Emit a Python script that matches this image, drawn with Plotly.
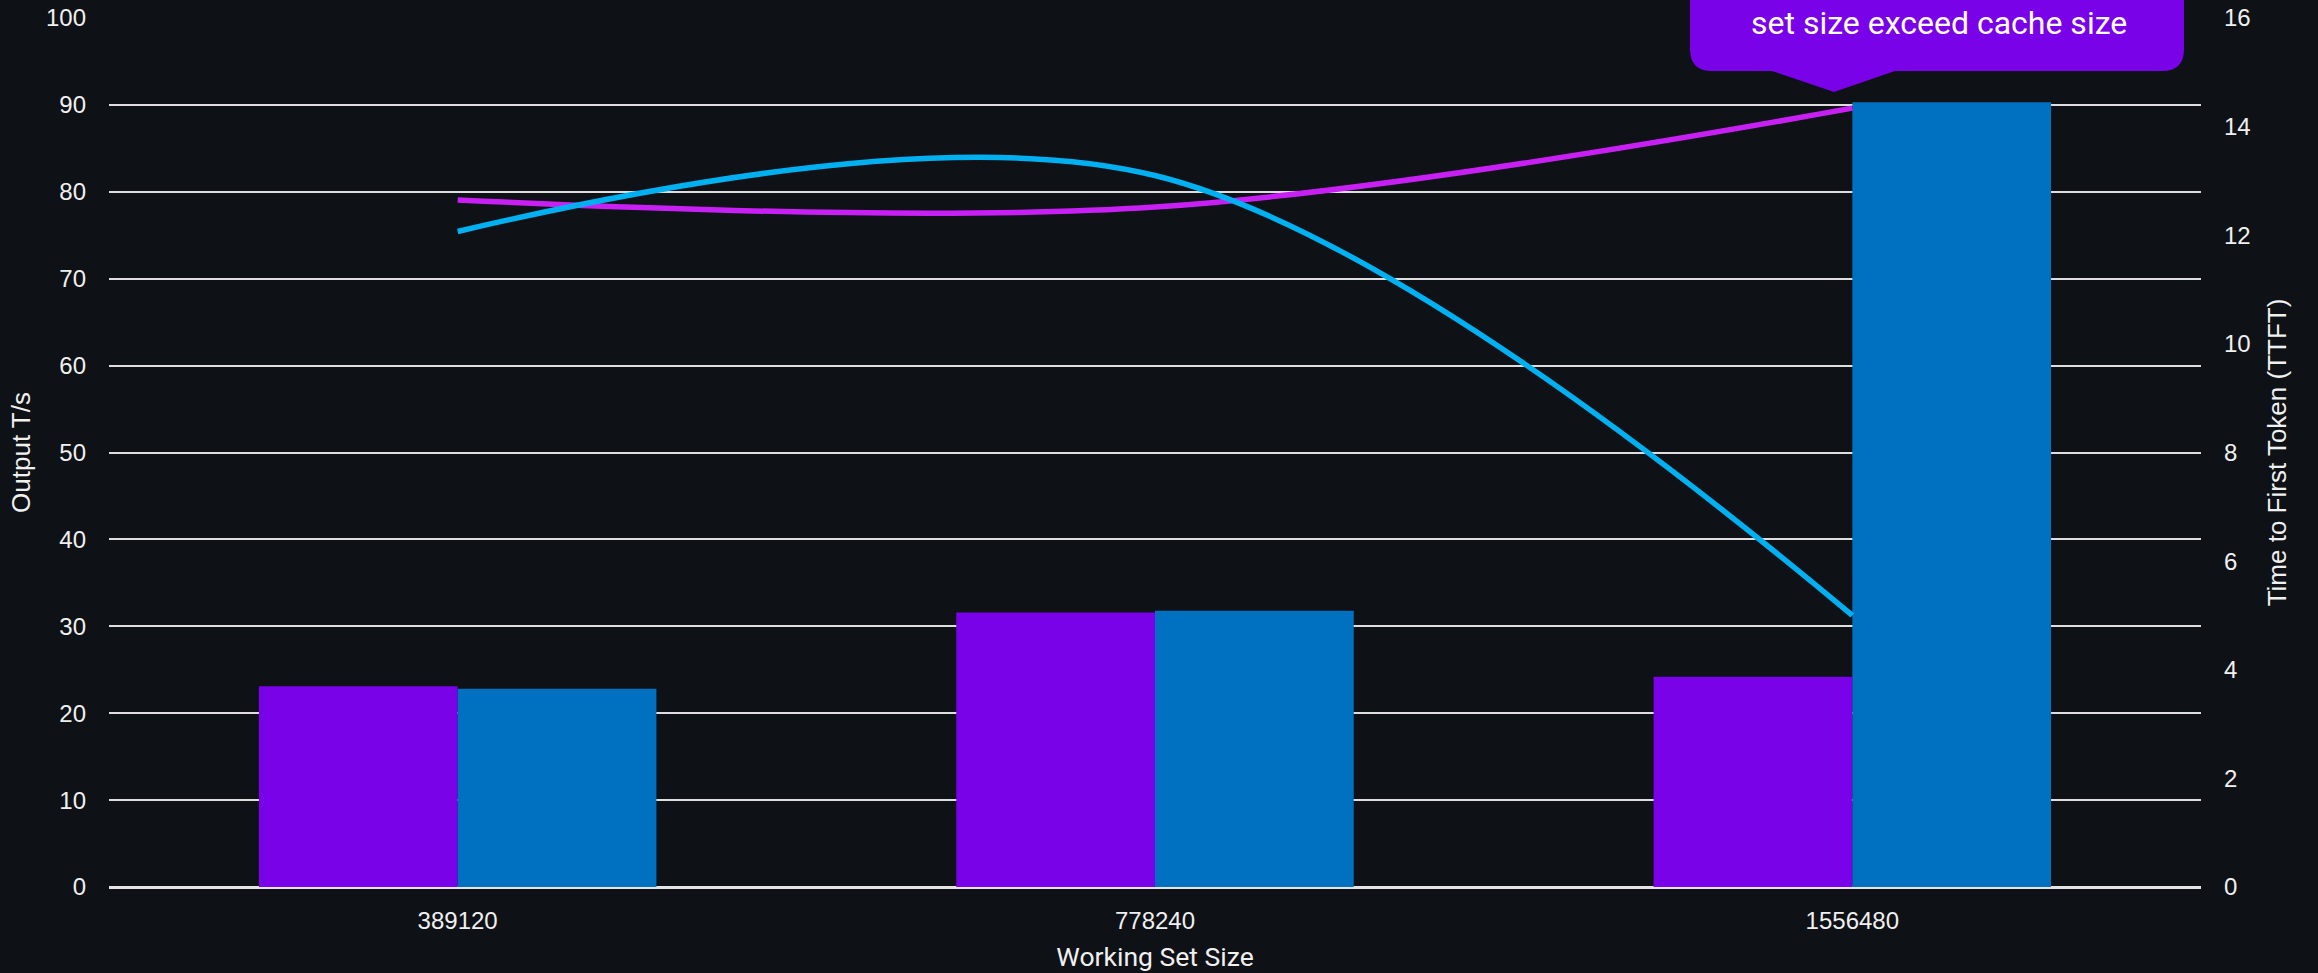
import plotly.graph_objects as go

# Working set sizes (categories on the x axis)
working_set = ["389120", "778240", "1556480"]

# Output tokens per second (left axis, bars)
output_ts_a = [23.1, 31.6, 24.2]
output_ts_b = [22.8, 31.8, 90.3]

# Time to first token in seconds (right axis, smoothed lines)
ttft_a = [12.65, 12.52, 14.34]
ttft_b = [12.07, 13.1, 5.0]

left_ticks = list(range(0, 101, 10))
right_ticks = list(range(0, 17, 2))

BG = "#0e1115"
PURPLE_BAR = "#7a02e8"
BLUE_BAR = "#0070c0"
PURPLE_LINE = "#c820f4"
BLUE_LINE = "#00b0f0"
TEXT = "#f0f0f0"
GRID = "#dedede"
TICK_FONT = dict(family="Liberation Sans, Arial, sans-serif", size=24, color=TEXT)
SIDE_TITLE_FONT = dict(family="Liberation Sans, Arial, sans-serif", size=26, color=TEXT)

fig = go.Figure()
fig.add_trace(go.Bar(x=working_set, y=output_ts_a, name="Output T/s A",
                     marker=dict(color=PURPLE_BAR, line=dict(width=0))))
fig.add_trace(go.Bar(x=working_set, y=output_ts_b, name="Output T/s B",
                     marker=dict(color=BLUE_BAR, line=dict(width=0))))
fig.add_trace(go.Scatter(x=working_set, y=ttft_a, name="TTFT A", yaxis="y2",
                         mode="lines",
                         line=dict(color=PURPLE_LINE, width=5.5, shape="spline", smoothing=1.0)))
fig.add_trace(go.Scatter(x=working_set, y=ttft_b, name="TTFT B", yaxis="y2",
                         mode="lines",
                         line=dict(color=BLUE_LINE, width=5.5, shape="spline", smoothing=1.0)))

# plot area in pixels: left 109, right 2201, top 18, bottom 887
W, H = 2318, 973
L, R, T, B = 109, 117, 18, 86
PW, PH = W - L - R, H - T - B


def px(x):
    return (x - L) / PW


def py(y):
    return (H - B - y) / PH


# callout bubble with rounded bottom corners and a pointer
bx0, bx1, by_bot, by_top = 1690, 2184, 71, -40
rad = 22
tip_x, tip_y = 1834, 92
base_l, base_r = 1772, 1895
path = (
    f"M {px(bx0)} {py(by_top)} "
    f"L {px(bx0)} {py(by_bot - rad)} "
    f"Q {px(bx0)} {py(by_bot)} {px(bx0 + rad)} {py(by_bot)} "
    f"L {px(base_l)} {py(by_bot)} "
    f"L {px(tip_x)} {py(tip_y)} "
    f"L {px(base_r)} {py(by_bot)} "
    f"L {px(bx1 - rad)} {py(by_bot)} "
    f"Q {px(bx1)} {py(by_bot)} {px(bx1)} {py(by_bot - rad)} "
    f"L {px(bx1)} {py(by_top)} Z"
)
fig.add_shape(type="path", path=path, xref="paper", yref="paper",
              fillcolor=PURPLE_BAR, line=dict(width=0), layer="above")
fig.add_annotation(text="set size exceed cache size", xref="paper", yref="paper",
                   x=px((bx0 + bx1) / 2 + 2), y=py(23), xanchor="center", yanchor="middle",
                   showarrow=False,
                   font=dict(family="Roboto, Inter, sans-serif", size=32, color="#ffffff"))

fig.update_layout(
    width=W, height=H,
    margin=dict(l=L, r=R, t=T, b=B, pad=0, autoexpand=False),
    paper_bgcolor=BG, plot_bgcolor=BG,
    barmode="group", bargap=0.43, bargroupgap=0,
    showlegend=False,
    xaxis=dict(
        type="category", automargin=False,
        tickfont=TICK_FONT,
        ticks="", ticklabelstandoff=17,
        showgrid=False, showline=False, zeroline=False,
        title=dict(text="Working Set Size", standoff=14,
                   font=dict(family="Roboto, Inter, sans-serif", size=26.5, color=TEXT)),
    ),
    yaxis=dict(
        range=[0, 100], tickvals=left_ticks, automargin=False,
        tickfont=TICK_FONT, ticks="", ticklabelstandoff=22,
        showgrid=True, gridcolor=GRID, gridwidth=1.6,
        zeroline=True, zerolinecolor="#e4e4e4", zerolinewidth=3,
        showline=False,
        title=dict(text="Output T/s", standoff=7, font=SIDE_TITLE_FONT),
    ),
    yaxis2=dict(
        overlaying="y", side="right", automargin=False,
        range=[0, 16], tickvals=right_ticks,
        tickfont=TICK_FONT, ticks="", ticklabelstandoff=22,
        showgrid=False, zeroline=False, showline=False,
        title=dict(text="Time to First Token (TTFT)", standoff=18, font=SIDE_TITLE_FONT),
    ),
)

fig.write_html("out.html")
